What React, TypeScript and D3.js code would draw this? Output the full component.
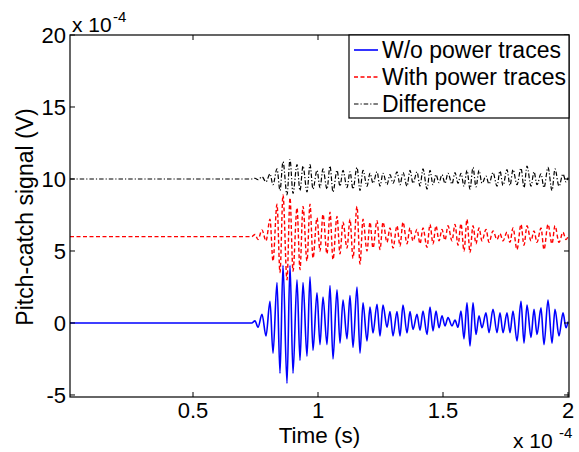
import React from 'react';
import * as d3 from 'd3';

// Axis ticks (units: x in 1e-4 s, y in 1e-4 V)
const xTicks = [0.5, 1, 1.5, 2];
const yTicks = [-5, 0, 5, 10, 15, 20];

const seriesNames = ['W/o power traces', 'With power traces', 'Difference'];
const seriesOffsets = [0, 6, 10];
const quietTimes = [0.008, 0.735];

// times of the successive peaks/troughs
const peakTimes = [
  0.748, 0.760, 0.776, 0.792, 0.808, 0.820, 0.836, 0.848, 0.860, 0.876,
  0.888, 0.900, 0.916, 0.928, 0.940, 0.956, 0.968, 0.980, 0.996, 1.008,
  1.020, 1.036, 1.048, 1.060, 1.076, 1.088, 1.100, 1.116, 1.128, 1.140,
  1.156, 1.168, 1.180, 1.196, 1.208, 1.220, 1.236, 1.248, 1.260, 1.276,
  1.288, 1.300, 1.316, 1.328, 1.340, 1.356, 1.368, 1.380, 1.396, 1.408,
  1.420, 1.436, 1.448, 1.460, 1.472, 1.484, 1.496, 1.508, 1.520, 1.536,
  1.548, 1.560, 1.572, 1.584, 1.596, 1.608, 1.620, 1.632, 1.644, 1.656,
  1.672, 1.684, 1.700, 1.716, 1.728, 1.740, 1.756, 1.768, 1.780, 1.796,
  1.812, 1.824, 1.836, 1.852, 1.864, 1.876, 1.892, 1.904, 1.920, 1.936,
  1.948, 1.964, 1.980, 1.992, 2.000,
];

const blueValues = [
  0.15, -0.3, 0.6, -0.9, 1.5, -2.1, 2.8, -3.5, 4.0, -4.2,
  4.0, -3.5, 3.0, -2.6, 2.8, -2.3, 3.2, -1.9, 2.1, -1.5,
  1.8, -1.5, 2.6, -2.5, 2.3, -1.4, 1.6, -1.1, 1.9, -1.7,
  2.5, -2.1, 1.4, -1.25, 1.1, -0.7, 1.3, -0.9, 1.25, -0.3,
  0.8, -0.9, 0.8, -0.9, 1.25, -0.7, 0.8, -0.45, 0.6, -0.5,
  0.83, -0.8, 1.1, -0.55, 0.83, -0.33, 0.5, -0.2, 0.37, -0.2,
  0.2, -0.3, 0.83, -1.1, 1.4, -1.6, 1.4, -0.8, 0.5, -0.33,
  0.7, -0.67, 0.95, -0.67, 0.7, -0.67, 0.7, -0.67, 0.83, -1.25,
  1.5, -1.4, 1.25, -1.0, 0.95, -0.8, 1.05, -1.5, 1.6, -1.4,
  0.95, -0.9, 0.7, -0.33, 0.1,
];

const redValues = [
  0.15, -0.2, 0.46, -0.3, 1.2, -1.7, 2.25, -2.5, 2.9, -3.0,
  2.7, -2.4, 2.0, -2.3, 2.1, -1.7, 2.25, -1.5, 1.3, -1.0,
  1.55, -1.2, 1.7, -1.6, 1.4, -1.2, 1.0, -0.8, 1.2, -1.5,
  2.1, -1.9, 1.2, -1.0, 1.0, -0.8, 1.1, -0.9, 1.0, -0.4,
  0.6, -0.8, 0.75, -0.65, 1.0, -0.5, 0.6, -0.3, 0.5, -0.5,
  0.6, -0.75, 0.85, -0.5, 0.75, -0.3, 0.5, -0.25, 0.75, -0.3,
  0.85, -0.6, 0.9, -1.0, 1.2, -1.1, 0.75, -0.5, 0.6, -0.3,
  0.5, -0.4, 0.4, -0.2, 0.2, -0.3, 0.3, -0.4, 0.6, -0.9,
  0.85, -0.6, 0.75, -0.3, 0.4, -0.4, 0.6, -0.9, 0.85, -0.5,
  0.75, -0.4, 0.3, -0.2, 0.0,
];

const diffValues = [
  0.05, -0.05, 0.15, -0.2, 0.35, -0.4, 0.7, -0.8, 1.2, -1.1,
  1.35, -1.0, 1.0, -0.8, 0.9, -0.9, 1.0, -0.7, 0.6, -0.6,
  0.7, -0.7, 0.9, -0.9, 0.6, -0.5, 0.6, -0.6, 0.5, -0.7,
  0.8, -0.8, 0.6, -0.5, 0.4, -0.3, 0.5, -0.5, 0.4, -0.4,
  0.3, -0.3, 0.5, -0.4, 0.45, -0.5, 0.6, -0.3, 0.5, -0.5,
  0.7, -0.7, 0.6, -0.4, 0.3, -0.25, 0.3, -0.3, 0.4, -0.35,
  0.45, -0.3, 0.4, -0.5, 0.6, -0.7, 0.8, -0.55, 0.6, -0.3,
  0.2, -0.35, 0.45, -0.5, 0.55, -0.45, 0.65, -0.45, 0.65, -0.4,
  0.75, -0.6, 0.9, -0.5, 0.5, -0.4, 0.35, -0.6, 0.8, -0.8,
  0.7, -0.5, 0.35, -0.2, 0.1,
];

const W = 579;
const H = 452;
const FONT = '"Liberation Sans", Arial, Helvetica, sans-serif';

export default function App() {
  const left = 70, right = 569, top = 35, bottom = 397;
  const x = d3.scaleLinear().domain([0.008, 2.004]).range([left, right]);
  const y = d3.scaleLinear().domain([-5.14, 20]).range([bottom, top]);

  const seriesValues = [blueValues, redValues, diffValues];
  const colors = ['#0000ff', '#ff0000', '#000000'];
  const dashes = ['none', '4,2.5', '4.5,2,1.2,2'];
  const widths = [1.6, 1.4, 1.2];

  const line = d3
    .line<[number, number]>()
    .x((d) => x(d[0]))
    .y((d) => y(d[1]))
    .curve(d3.curveMonotoneX);

  const paths = seriesValues.map((vals, s) => {
    const pts: [number, number][] = [
      ...quietTimes.map((t) => [t, seriesOffsets[s]] as [number, number]),
      ...peakTimes.map((t, i) => [t, seriesOffsets[s] + vals[i]] as [number, number]),
    ];
    return line(pts) || '';
  });

  const tickLen = 5;
  const legX = 349, legY = 35, legW = 220, legH = 83;
  const rowY = [50, 77, 104];

  return (
    <svg
      width={W}
      height={H}
      style={{ position: 'absolute', left: 0, top: 0, background: '#fff' }}
      fontFamily={FONT}
    >
      <rect x={0} y={0} width={W} height={H} fill="#fff" />
      <defs>
        <clipPath id="plotClip">
          <rect x={left} y={top} width={right - left} height={bottom - top} />
        </clipPath>
      </defs>

      <g clipPath="url(#plotClip)">
        {paths.map((d, i) => (
          <path
            key={i}
            d={d}
            fill="none"
            stroke={colors[i]}
            strokeWidth={widths[i]}
            strokeDasharray={dashes[i]}
            strokeLinejoin="round"
          />
        ))}
      </g>

      {/* ticks */}
      {xTicks.map((t) => (
        <g key={'xt' + t}>
          <line x1={x(t)} x2={x(t)} y1={bottom} y2={bottom - tickLen} stroke="#000" strokeWidth={1} />
          <line x1={x(t)} x2={x(t)} y1={top} y2={top + tickLen} stroke="#000" strokeWidth={1} />
          <text x={x(t)} y={418} fontSize={22} textAnchor="middle" fill="#000">
            {String(t)}
          </text>
        </g>
      ))}
      {yTicks.map((t) => (
        <g key={'yt' + t}>
          <line x1={left} x2={left + tickLen} y1={y(t)} y2={y(t)} stroke="#000" strokeWidth={1} />
          <line x1={right} x2={right - tickLen} y1={y(t)} y2={y(t)} stroke="#000" strokeWidth={1} />
          <text x={66} y={y(t)} dy="0.36em" fontSize={22} textAnchor="end" fill="#000">
            {String(t)}
          </text>
        </g>
      ))}

      {/* axes box */}
      <rect x={left} y={top} width={right - left} height={bottom - top} fill="none" stroke="#000" strokeWidth={1.2} />

      {/* exponent labels */}
      <text x={72} y={32} fontSize={21} fill="#000">x 10</text>
      <text x={113} y={22} fontSize={15} fill="#000">-4</text>
      <text x={513} y={448} fontSize={21} fill="#000">x 10</text>
      <text x={559} y={438} fontSize={15} fill="#000">-4</text>

      {/* axis labels */}
      <text x={(left + right) / 2} y={443} fontSize={22.5} textAnchor="middle" fill="#000">
        Time (s)
      </text>
      <text
        transform={`translate(33,217) rotate(-90)`}
        fontSize={23}
        textAnchor="middle"
        fill="#000"
      >
        Pitch-catch signal (V)
      </text>

      {/* legend */}
      <rect x={legX} y={legY} width={legW} height={legH} fill="#fff" stroke="#000" strokeWidth={1.2} />
      {seriesNames.map((name, i) => (
        <g key={name}>
          <line
            x1={354}
            x2={378}
            y1={rowY[i]}
            y2={rowY[i]}
            stroke={colors[i]}
            strokeWidth={widths[i]}
            strokeDasharray={dashes[i]}
          />
          <text x={382} y={rowY[i] + 8} fontSize={23} fill="#000">
            {name}
          </text>
        </g>
      ))}
    </svg>
  );
}
